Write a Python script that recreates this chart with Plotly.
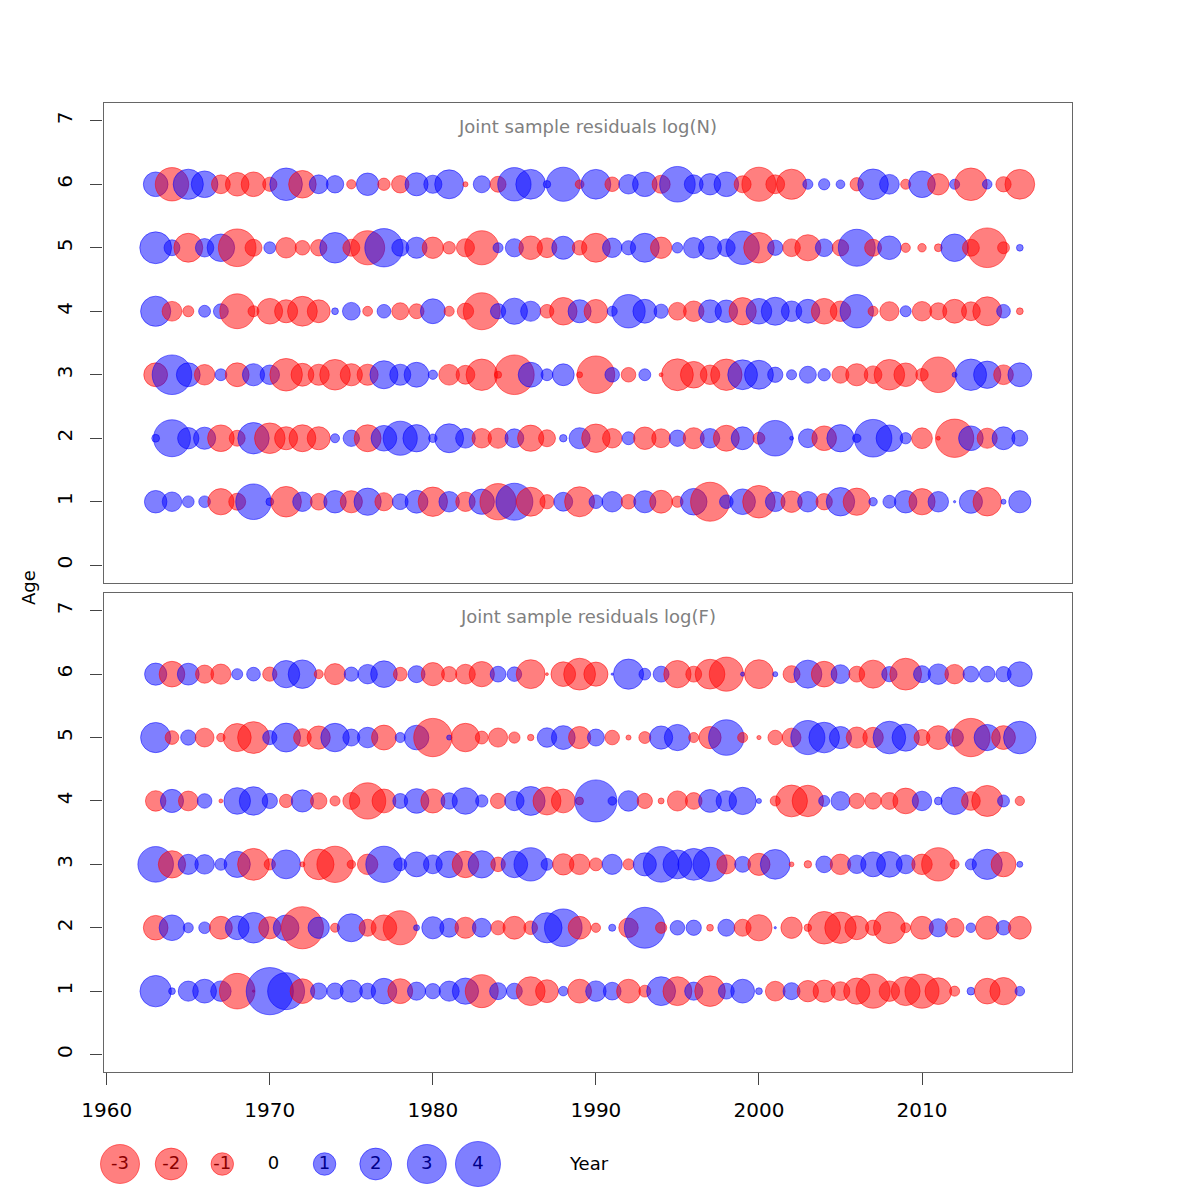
import numpy as np
import plotly.graph_objects as go

# Years and ages of the residual grid
years = list(range(1963, 2017))
ages = [1, 2, 3, 4, 5, 6]

# Joint sample residuals log(N), one list per age (1963..2016)
n_age1 = [1.0, 0.75, 0.27, 0.27, -1.36, -0.57, 2.5, 0.12, -1.85, 0.75, -0.55, 1.0, -0.97, 1.47, -0.65, 0.49, 1.03,
          -1.7, 0.83, -0.75, 1.26, -2.6, 2.7, -1.65, -0.4, 0.7, -1.78, 0.37, 0.83, -0.42, 0.97, -1.03, -0.25, 1.4, -3.0, 0.37,
          1.3, -2.1, 0.77, -0.9, 0.83, -0.53, 1.6, -1.47, 0.14, 0.33, 1.0, -1.36, 0.83, 0.01, 1.06, -1.6, 0.05, 0.97]
n_age2 = [0.12, 2.7, 0.9, 0.97, -1.4, -0.5, 1.95, -1.85, -1.05, -1.43, -1.05, 0.16, 0.53, -1.43, 1.3, 2.3, 1.47,
          0.14, 1.65, 0.77, -0.75, -0.8, 0.7, -1.36, -0.57, 0.11, 0.88, -1.6, -0.75, 0.33, -1.0, -0.7, 0.53, -0.88, 0.75, -1.33,
          1.03, -0.28, 2.5, 0.03, 0.7, -1.2, 1.47, 0.14, 2.8, 1.4, 0.25, -0.85, -0.03, -2.9, 1.2, -0.8, 1.03, 0.5]
n_age3 = [-1.12, 3.1, 1.12, -0.83, 0.28, -1.12, 0.97, 0.75, -2.1, -1.03, -0.88, -1.85, -0.97, -0.88, 1.55, 0.88, 1.22,
          0.17, -0.85, -0.7, -1.95, -0.1, -3.1, 1.22, 0.28, 0.94, -0.07, -2.8, 0.42, -0.42, 0.28, -0.03, -2.0, -1.4, -0.75, -1.95,
          1.75, 1.65, 0.46, 0.2, 0.57, 0.3, -0.57, -0.97, -0.62, -1.85, -1.1, -0.31, -2.5, 0.05, 1.95, 1.47, -0.77, 1.12]
n_age4 = [1.8, -0.77, -0.24, 0.28, 0.44, -2.4, -0.24, -1.3, -1.05, -1.75, -1.03, 0.09, 0.62, -0.19, 0.37, -0.57, -0.44,
          1.22, -0.2, -0.53, -2.7, 0.46, 1.36, 0.8, -0.37, -1.5, 1.05, -1.1, 0.2, 2.2, 1.12, 0.4, -0.62, -0.83, 1.03, 1.0,
          -1.47, 1.3, 1.55, 0.83, 1.12, -1.3, -0.83, 2.2, -0.2, -0.72, 0.24, -0.75, -0.57, -1.12, -0.7, -1.65, 0.37, -0.09]
n_age5 = [2.0, 0.5, -1.65, 0.67, 1.5, -2.8, -0.57, 0.28, -0.83, -0.42, -0.53, 1.85, -0.57, -2.3, 2.9, 0.57, 0.88,
          -0.9, -0.31, -0.65, -2.3, 0.2, 0.65, -1.1, -0.77, 1.05, -0.42, -1.65, 0.75, 0.4, 1.65, -0.9, 0.22, 0.83, 1.05, 0.62,
          2.2, -1.85, 0.46, -0.62, -1.35, 0.62, -0.53, 2.7, -0.57, 1.1, -0.17, -0.14, -0.12, 1.5, -0.57, -3.1, -0.28, 0.09]
n_age6 = [1.2, -2.2, 1.8, 1.4, -0.7, -1.1, -1.2, -0.4, 2.1, -1.5, 0.7, 0.6, -0.17, 1.0, -0.3, -0.6, 1.05,
          0.65, 1.65, -0.05, 0.57, -0.5, 2.2, 1.75, 0.11, 2.3, -0.15, 1.75, -0.42, 0.75, 1.2, -0.65, 2.5, 0.7, 0.9, 1.2,
          -0.57, -2.3, -0.7, -1.8, 0.2, 0.25, 0.15, -0.35, 1.85, 0.77, -0.2, 1.4, -0.9, 0.2, -2.1, 0.18, -0.46, -1.75]

# Joint sample residuals log(F), one list per age (1963..2016)
f_age1 = [1.95, 0.09, 0.8, 1.12, 0.83, -2.5, -0.01, 4.4, 2.7, -1.2, 0.53, 0.53, 0.97, 0.5, 1.3, -1.22, 0.65,
          0.46, 0.8, 1.36, -2.15, 0.57, 0.5, -1.65, -1.03, 0.18, -1.12, 0.83, 0.62, -1.12, -0.28, 1.65, -1.65, 0.65, -1.85, 0.5,
          1.12, 0.09, -0.77, 0.57, -0.9, -0.97, -0.7, -1.36, -2.3, -0.83, -1.65, -2.3, -1.4, -0.2, 0.12, -1.3, -1.47, 0.18]
f_age2 = [-1.2, 1.3, 0.2, 0.27, -1.03, 1.12, 1.85, -0.97, 1.3, -3.5, 0.9, -0.16, 1.55, -0.57, -1.3, -2.3, 0.07,
          0.97, 0.7, -0.88, 0.7, -0.4, -1.03, -0.37, 1.8, 2.8, -1.03, -0.17, 0.1, -0.75, 3.3, -0.25, 0.42, 0.46, -0.09, 0.57,
          -0.57, -1.36, 0.01, -0.9, -0.11, -2.1, -1.95, -1.12, -0.46, -2.0, -0.19, -1.03, 0.65, -0.7, 0.18, -1.06, 0.42, -1.03]
f_age3 = [2.5, -1.47, 0.8, 0.75, 0.28, 1.36, -2.0, -0.25, 1.65, -0.05, -1.85, -2.6, -0.14, -0.83, 2.6, 0.33, 1.22,
          0.7, 1.4, -1.4, 1.47, -0.42, 1.4, 2.2, 0.28, -0.9, -0.83, -0.33, 0.8, -0.24, 1.06, 2.5, 1.65, 2.0, 2.3, -0.72,
          0.5, -0.97, 1.75, -0.045, -0.11, 0.55, -0.83, 0.67, 1.22, 1.3, 0.7, -0.83, -2.2, -0.16, 0.24, 1.8, -1.22, 0.07]
f_age4 = [-0.83, 1.06, -0.77, 0.42, -0.03, 1.4, 1.6, 0.46, -0.35, 0.97, -0.53, -0.2, -0.57, -2.6, -1.12, 0.44, 1.2,
          -1.15, 0.53, 1.4, 0.3, -0.46, 0.75, 1.65, -1.55, -1.12, -0.12, 3.5, 0.14, 0.83, -0.46, -0.07, -0.8, -0.55, 1.03, 0.83,
          1.47, 0.05, -0.2, -2.0, -1.95, 0.24, 0.7, -0.46, -0.53, -0.57, -1.3, 0.75, 0.12, 1.47, -0.7, -1.9, 0.28, -0.17]
f_age5 = [1.8, -0.37, 0.46, -0.7, -0.14, -1.55, -2.0, 0.4, 1.65, -0.62, -1.06, 1.6, 0.57, 0.83, -1.22, 0.2, 1.2,
          -2.9, 0.05, -1.6, -0.33, -0.72, -0.25, -0.08, 0.75, 1.12, -0.97, 0.57, -0.42, -0.05, -0.28, 1.06, 1.36, -0.2, -0.97, 2.5,
          -0.2, -0.035, -0.42, -0.7, 2.3, 1.85, 0.97, -0.88, -0.83, 2.1, 1.47, -0.5, -1.12, 0.62, -2.9, 1.36, -1.12, 2.1]
f_age6 = [0.97, -1.3, 0.94, -0.65, -0.8, 0.24, 0.37, -0.4, 1.47, 1.6, -0.16, -0.88, 0.4, 0.75, 1.4, -0.37, 0.57,
          -1.06, -0.46, -0.77, -1.26, 0.49, 0.42, -1.65, -0.015, -1.2, -2.0, -1.15, 0.01, 1.8, 0.27, 0.5, -1.47, -0.5, -1.75, -2.3,
          0.035, -1.65, 0.05, -0.57, 1.55, -1.3, 0.7, -0.5, -1.55, 0.46, -2.0, 0.57, 0.83, -0.75, 0.49, 0.49, 0.46, 1.22]

legend_vals = [-3, -2, -1, 0, 1, 2, 3, 4]

n_rows = [n_age1, n_age2, n_age3, n_age4, n_age5, n_age6]
f_rows = [f_age1, f_age2, f_age3, f_age4, f_age5, f_age6]

RED = "rgba(255,0,0,0.5)"
BLUE = "rgba(0,0,255,0.5)"
SCALE = 22.5  # bubble diameter (px) for |residual| = 1, area ~ |residual|
FONT = "DejaVu Sans"

# page has an 8px body margin, so place everything 8px up/left
OFF = 8.0
W = 1200.0


def px_x(x):
    return (x - OFF) / W


def px_y(y):
    return 1 - (y - OFF) / W


def bubble_trace(rows, xa, ya):
    xs, ys, vs = [], [], []
    for age, vals in zip(ages, rows):
        xs += years
        ys += [age] * len(years)
        vs += vals
    vs = np.array(vs)
    cols = [RED if v < 0 else BLUE for v in vs]
    return go.Scatter(x=xs, y=ys, mode="markers", xaxis=xa, yaxis=ya,
                      marker=dict(size=SCALE * np.sqrt(np.abs(vs)), color=cols, opacity=1,
                                  line=dict(width=1, color=cols)),
                      hoverinfo="skip", showlegend=False)


fig = go.Figure()
fig.add_trace(bubble_trace(n_rows, "x", "y"))
fig.add_trace(bubble_trace(f_rows, "x2", "y2"))

# size legend under the plot
lv = np.array(legend_vals)
lcols = [RED if v < 0 else BLUE for v in lv]
fig.add_trace(go.Scatter(
    x=list(range(len(lv))), y=[0.5] * len(lv), mode="markers+text",
    xaxis="x3", yaxis="y3",
    marker=dict(size=SCALE * np.sqrt(np.abs(lv)), color=lcols, opacity=1,
                line=dict(width=1, color=lcols)),
    text=[str(v) for v in lv], textposition="middle center",
    textfont=dict(family=FONT, size=18,
                  color=["#8b0000" if v < 0 else ("#00008b" if v > 0 else "black") for v in lv]),
    hoverinfo="skip", showlegend=False))

xdom = [px_x(103.5), px_x(1072)]
top_dom = [px_y(583), px_y(103)]
bot_dom = [px_y(1072.3), px_y(593)]
xr = [1959.8, 2019.2]
yr = [-0.28, 7.28]

box = dict(showline=True, mirror=True, linecolor="#666666", linewidth=1.3,
           showgrid=False, zeroline=False, automargin=False)
tickfont = dict(family=FONT, size=20, color="black")

yax = dict(domain=top_dom, range=yr, tickvals=list(range(8)), ticks="outside",
           ticklen=12, tickcolor="#444444", tickangle=-90, tickfont=tickfont,
           ticklabelstandoff=10, **box)

# legend circles 51.14 px apart, first at x=120, centred at y=1164
step = 51.14
lx0 = 120 - step / 2
lx1 = 120 + step * (len(lv) - 0.5)


def note(text, x, y, size=18, color="black", angle=0):
    return dict(text=text, x=px_x(x), y=px_y(y), xref="paper", yref="paper",
                xanchor="center", yanchor="middle", showarrow=False, textangle=angle,
                font=dict(family=FONT, size=size, color=color))


cx = (103.5 + 1072) / 2
fig.update_layout(
    width=1200, height=1200, autosize=False,
    margin=dict(l=0, r=0, t=0, b=0),
    paper_bgcolor="white", plot_bgcolor="white",
    xaxis=dict(domain=xdom, range=xr, anchor="y", showticklabels=False, ticks="", **box),
    yaxis=dict(anchor="x", **yax),
    xaxis2=dict(domain=xdom, range=xr, anchor="y2", tickvals=list(range(1960, 2011, 10)),
                ticks="outside", ticklen=12, tickcolor="#444444", tickfont=tickfont,
                ticklabelstandoff=8, **box),
    yaxis2=dict(anchor="x2", **{**yax, "domain": bot_dom}),
    xaxis3=dict(domain=[px_x(lx0), px_x(lx1)], range=[-0.5, len(lv) - 0.5], visible=False),
    yaxis3=dict(domain=[px_y(1194), px_y(1134)], range=[0, 1], visible=False),
    annotations=[
        note("Joint sample residuals log(N)", cx, 127, color="#808080"),
        note("Joint sample residuals log(F)", cx, 617, color="#808080"),
        note("Age", 28, 588, angle=-90),
        note("Year", 589, 1163),
    ],
)

fig.write_html("out.html")
